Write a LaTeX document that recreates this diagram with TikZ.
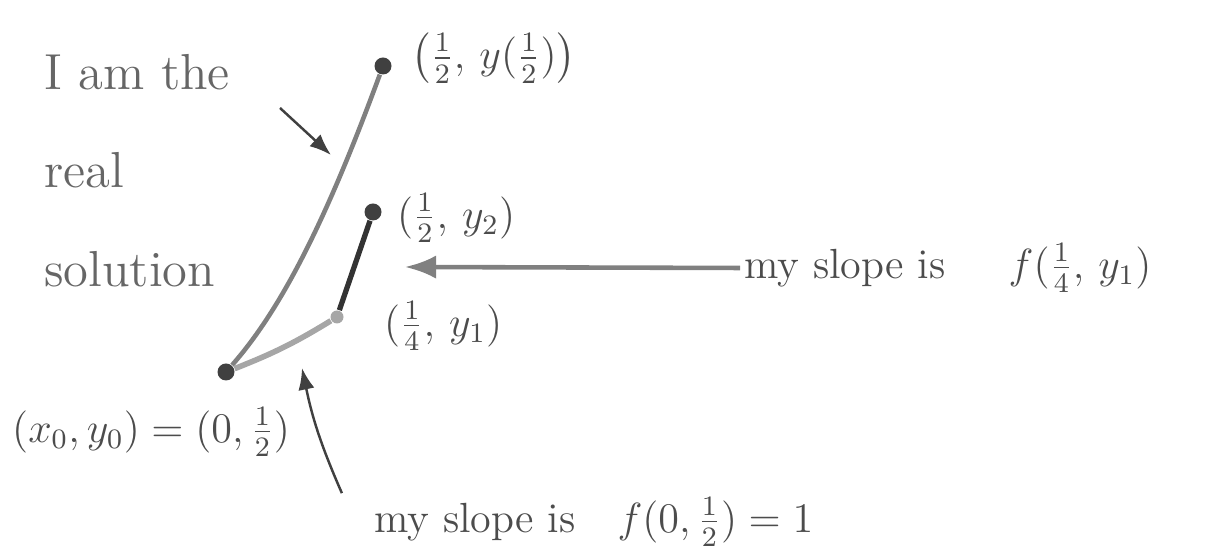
\documentclass[tikz,border=0pt]{standalone}
\usepackage{amsmath}
\usepackage{tikz}
\usetikzlibrary{arrows.meta,positioning}

\begin{document}
\begin{tikzpicture}[
  x=0.1mm, y=-0.1mm,
  >=Latex,
  every node/.style={font=\large, text=black!70},
  dot/.style={circle, fill=black!75, inner sep=0pt, minimum size=1.7mm},
  pale/.style={circle, fill=black!35, inner sep=0pt, minimum size=1.3mm},
  lab/.style={inner sep=1pt, anchor=west},
  note/.style={inner sep=1pt, align=left, text=black!60},
  pen/.style={draw=black!50, line width=1.3pt},
  ink/.style={draw=black!80, line width=1.5pt},
  hint/.style={->, draw=black!75, line width=0.7pt}
]
  \useasboundingbox (0,0) rectangle (1208,558);

  % points of Euler's method and the real solution
  \node[dot]  (p0)   at (226,372) {};
  \node[pale] (p1)   at (337,317) {};
  \node[dot]  (p2)   at (373,212) {};
  \node[dot]  (ptop) at (383,66) {};

  \node[lab] (ltop) at (407,58)  {$\bigl(\tfrac{1}{2},\, y(\tfrac{1}{2})\bigr)$};
  \node[lab] (lp2)  at (393,218) {$(\tfrac{1}{2},\, y_2)$};
  \node[lab] (lp1)  at (380,326) {$(\tfrac{1}{4},\, y_1)$};
  \node[lab] (lp0)  at (8,432)   {$(x_0,y_0) = (0,\tfrac{1}{2})$};

  \node[note, font=\Large, anchor=north west] (real) at (40,50)
    {I am the\\[10pt] real\\[10pt] solution};
  \node[lab] (slopeB) at (740,268) {my slope is\hspace{1.5em}$f(\tfrac{1}{4},\, y_1)$};
  \node[lab] (slopeA) at (370,522) {my slope is\hspace{1em}$f(0,\tfrac{1}{2})=1$};

  \coordinate (aim)  at (331,155);
  \coordinate (from) at (280,108);
  \coordinate (mid)  at (405,267);
  \coordinate (low)  at (302,368);

  % real solution
  \draw[pen] (p0) .. controls (285,305) and (330,210) .. (ptop);
  % Euler steps
  \draw[pen, draw=black!35, line width=1.6pt] (p0) to[bend right=5] (p1);
  \draw[ink] (p1) -- (p2);

  \draw[hint] (from) -- (aim);
  \draw[hint, draw=black!50, line width=1.3pt] (slopeB.west) -- (mid);
  \draw[hint] ([xshift=-8pt]slopeA.north west) to[bend left=6] (low);
\end{tikzpicture}
\end{document}
